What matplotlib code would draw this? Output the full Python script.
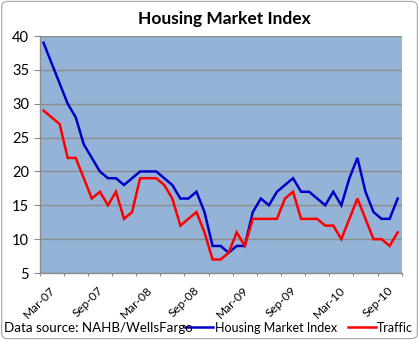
import matplotlib
matplotlib.use("Agg")
import matplotlib.pyplot as plt
from matplotlib.patches import FancyBboxPatch
from matplotlib.lines import Line2D
import numpy as np

plt.rcParams['font.family'] = ['Lato', 'DejaVu Sans']

# monthly values, first point Mar-07
hmi = [39, 36, 33, 30, 28, 24, 22, 20, 19, 19, 18, 19, 20, 20, 20, 19, 18, 16, 16, 17,
       14, 9, 9, 8, 9, 9, 14, 16, 15, 17, 18, 19, 17, 17, 16, 15, 17, 15, 19, 22,
       17, 14, 13, 13, 16]
traffic = [29, 28, 27, 22, 22, 19, 16, 17, 15, 17, 13, 14, 19, 19, 19, 18, 16, 12, 13, 14,
           11, 7, 7, 8, 11, 9, 13, 13, 13, 13, 16, 17, 13, 13, 13, 12, 12, 10, 13, 16,
           13, 10, 10, 9, 11]
tick_labels = ['Mar-07', 'Sep-07', 'Mar-08', 'Sep-08', 'Mar-09', 'Sep-09', 'Mar-10', 'Sep-10']

blue = '#0000C8'
red = '#FF0000'
grid_col = '#8C8C8C'

fig = plt.figure(figsize=(4.19, 3.40), dpi=100)
fig.patch.set_facecolor('white')
border = FancyBboxPatch((0.004, 0.004), 0.992, 0.992, boxstyle='round,pad=0,rounding_size=0.015',
                        transform=fig.transFigure, fill=False, edgecolor='#A6A6A6', linewidth=0.8)
fig.patches.append(border)

ax = fig.add_axes([0.0943, 0.197, 0.8644, 0.697])
ax.set_facecolor('#95B3D7')

x = np.arange(len(hmi))
ax.plot(x, hmi, color=blue, lw=1.8, solid_joinstyle='miter')
ax.plot(x, traffic, color=red, lw=1.8, solid_joinstyle='miter')

ax.set_xlim(-0.5, len(hmi) - 0.5)
ax.set_ylim(5, 40)
ax.set_yticks(np.arange(5, 41, 5))
ax.yaxis.grid(True, color=grid_col, lw=1.0)
ax.set_axisbelow(True)

xt = np.arange(-0.5, len(hmi), 3)
ax.set_xticks(xt)
labels = []
for i in range(len(xt)):
    labels.append(tick_labels[i // 2] if i % 2 == 0 and i // 2 < len(tick_labels) else '')
ax.set_xticklabels(labels, rotation=45, ha='center', va='top', fontsize=8.6)
ax.tick_params(axis='x', direction='out', length=2.5, color=grid_col, pad=5.5)
ax.tick_params(axis='y', direction='out', length=4.5, color=grid_col, labelsize=10.5, pad=3)

for s in ['top', 'right']:
    ax.spines[s].set_visible(False)
for s in ['left', 'bottom']:
    ax.spines[s].set_color(grid_col)
    ax.spines[s].set_linewidth(1.0)

fig.text(0.535, 0.945, 'Housing Market Index', ha='center', va='center',
         fontsize=12.5, fontweight='bold')

fig.text(0.01, 0.035, 'Data source: NAHB/WellsFargo', ha='left', va='center', fontsize=9.6)
fig.add_artist(Line2D([0.442, 0.508], [0.037, 0.037], color=blue, lw=1.8))
fig.text(0.513, 0.035, 'Housing Market Index', ha='left', va='center', fontsize=9)
fig.add_artist(Line2D([0.83, 0.897], [0.037, 0.037], color=red, lw=1.8))
fig.text(0.900, 0.035, 'Traffic', ha='left', va='center', fontsize=9)

fig.savefig('out.png', dpi=100)
